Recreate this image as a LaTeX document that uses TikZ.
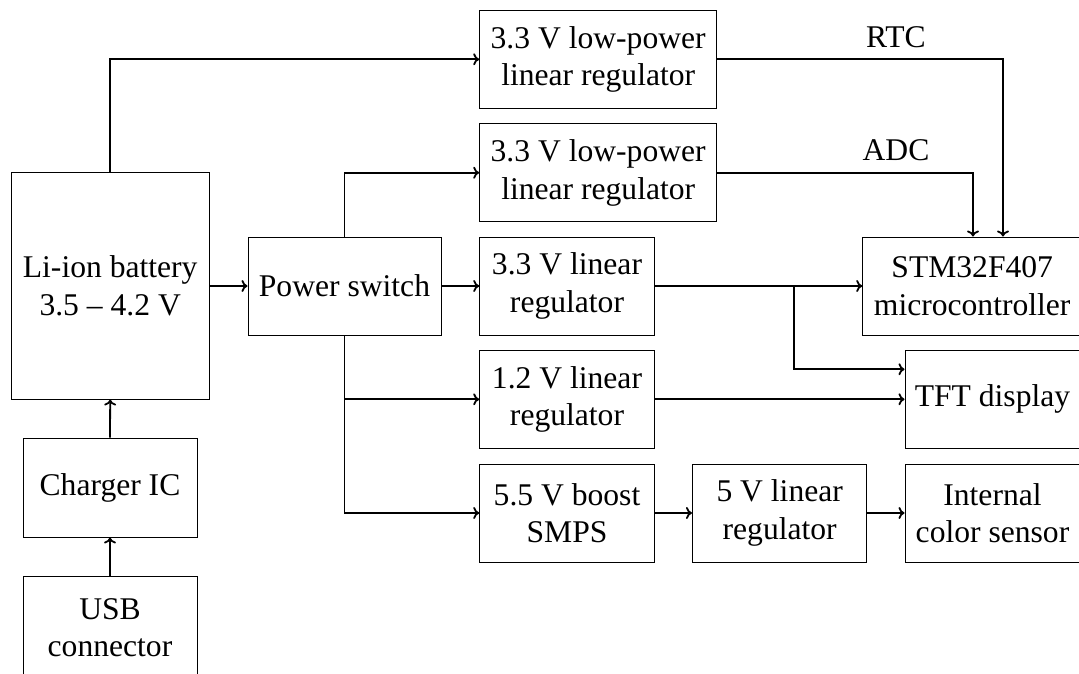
\documentclass[tikz,border=0pt]{standalone}
\usepackage{fontspec}
\setmainfont{Liberation Serif}
\usetikzlibrary{arrows.meta}
\begin{document}
\begin{tikzpicture}[x=1pt,y=-1pt,
  blk/.style={draw, line width=1pt, inner sep=0pt, align=center, font=\fontsize{31.6}{37.5}\selectfont},
  conn/.style={line width=1.8pt, -{To[length=6pt,width=12pt]}},
  lbl/.style={inner sep=0pt, font=\fontsize{31.6}{37.5}\selectfont}]
\useasboundingbox (0,0) rectangle (1079,673);
% boxes
\node[blk, minimum width=197.6pt, minimum height=226.3pt] (bat) at (110.2,285.9) {Li-ion battery\\3.5 – 4.2 V};
\node[blk, minimum width=174pt, minimum height=99pt] (chg) at (110,487.5) {Charger IC};
\node[blk, minimum width=174pt, minimum height=103pt] (usb) at (110,627.5) {USB\\connector};
\node[blk, minimum width=193pt, minimum height=98pt] (ps) at (344.5,286) {Power switch};
\node[blk, minimum width=237pt, minimum height=98pt] (lp1) at (598.2,59.3) {3.3 V low-power\\linear regulator};
\node[blk, minimum width=237pt, minimum height=98pt] (lp2) at (598.2,172.7) {3.3 V low-power\\linear regulator};
\node[blk, minimum width=174.6pt, minimum height=98pt] (l33) at (567,286) {3.3 V linear\\regulator};
\node[blk, minimum width=174.6pt, minimum height=98pt] (l12) at (567,399.3) {1.2 V linear\\regulator};
\node[blk, minimum width=174.6pt, minimum height=98pt] (bst) at (567,513) {5.5 V boost\\SMPS};
\node[blk, minimum width=174.5pt, minimum height=98pt] (l5) at (779.7,513) {5 V linear\\regulator};
\node[blk, minimum width=175pt, minimum height=98pt] (sens) at (992.5,513) {Internal\\color sensor};
\node[blk, minimum width=175pt, minimum height=98pt] (tft) at (992.5,399.3) {TFT display};
\node[blk, minimum width=219pt, minimum height=98pt] (stm) at (972.2,286) {STM32F407\\microcontroller};
% labels
\node[lbl] (rtc) at (896,36.7) {RTC};
\node[lbl] (adc) at (896,150) {ADC};
% junctions
\coordinate (j33) at (794,286);
\coordinate (jps) at (344.5,399.3);
% connectors
\draw[conn] (bat.north) |- (lp1.west);
\draw[conn] (bat.east) -- (ps.west);
\draw[conn] (ps.north) |- (lp2.west);
\draw[conn] (ps.east) -- (l33.west);
\draw[conn] (ps.south) |- (bst.west);
\draw[conn] (jps) -- (l12.west);
\draw[conn] (l33.east) -- (stm.west);
\draw[conn] (j33) |- ([yshift=30pt]tft.west);
\draw[conn] (l12.east) -- (tft.west);
\draw[conn] (bst.east) -- (l5.west);
\draw[conn] (l5.east) -- (sens.west);
\draw[conn] (lp1.east) -| ([xshift=30.8pt]stm.north);
\draw[conn] (lp2.east) -| ([xshift=0.8pt]stm.north);
\draw[conn] (chg.north) -- (bat.south);
\draw[conn] (usb.north) -- (chg.south);
\end{tikzpicture}
\end{document}
